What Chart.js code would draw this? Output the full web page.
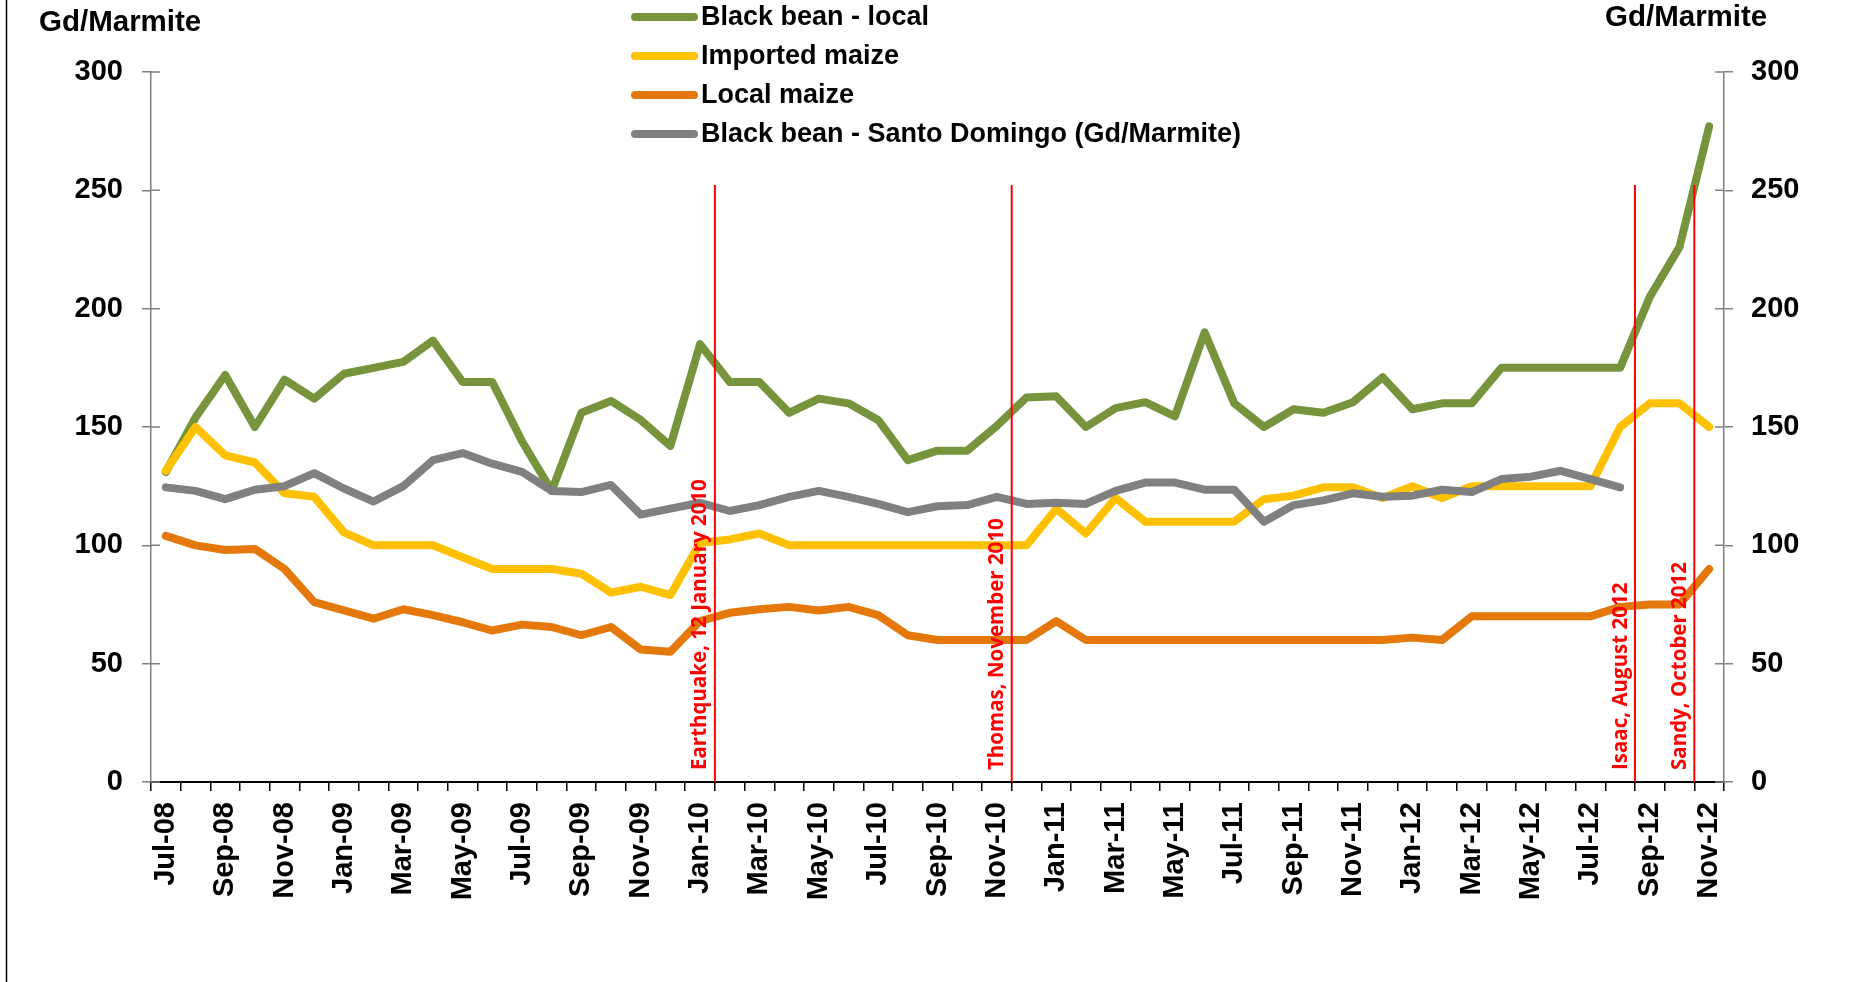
<!DOCTYPE html>
<html>
<head>
<meta charset="utf-8">
<title>Black bean and maize prices</title>
<script src="https://cdn.jsdelivr.net/npm/chart.js@4.4.1/dist/chart.umd.min.js"></script>
<style>
  html, body { margin: 0; padding: 0; background: #fff; }
  #wrap { position: relative; width: 1851px; height: 982px; }
</style>
</head>
<body>
<div id="wrap"><canvas id="priceChart"></canvas></div>
<script>

// Months, Jul-08 to Nov-12 (only every second one is labelled)
const months = [
  'Jul-08', 'Aug-08', 'Sep-08', 'Oct-08', 'Nov-08', 'Dec-08',
  'Jan-09', 'Feb-09', 'Mar-09', 'Apr-09', 'May-09', 'Jun-09', 'Jul-09', 'Aug-09', 'Sep-09', 'Oct-09', 'Nov-09', 'Dec-09',
  'Jan-10', 'Feb-10', 'Mar-10', 'Apr-10', 'May-10', 'Jun-10', 'Jul-10', 'Aug-10', 'Sep-10', 'Oct-10', 'Nov-10', 'Dec-10',
  'Jan-11', 'Feb-11', 'Mar-11', 'Apr-11', 'May-11', 'Jun-11', 'Jul-11', 'Aug-11', 'Sep-11', 'Oct-11', 'Nov-11', 'Dec-11',
  'Jan-12', 'Feb-12', 'Mar-12', 'Apr-12', 'May-12', 'Jun-12', 'Jul-12', 'Aug-12', 'Sep-12', 'Oct-12', 'Nov-12'
];

// Prices, Gd/Marmite
const blackBeanLocal = [
  131, 154, 172, 150, 170, 162,
  172.5, 175, 177.5, 186.5, 169, 169, 144, 123, 156, 161, 153, 142,
  185, 169, 169, 156, 162, 160, 153, 136, 140, 140, 150.5, 162.5,
  163, 150, 158, 160.5, 154.5, 190, 160, 150, 157.5, 156, 160.5, 171,
  157.5, 160, 160, 175, 175, 175, 175, 175, 205, 226, 277
];
const importedMaize = [
  131.5, 150, 138, 135, 122, 120.5,
  105.5, 100, 100, 100, 95, 90, 90, 90, 88, 80, 82.5, 79,
  101, 102.5, 105, 100, 100, 100, 100, 100, 100, 100, 100, 100,
  115.5, 105, 120, 110, 110, 110, 110, 119.5, 121, 124.5, 124.5, 120,
  125, 120, 125, 125, 125, 125, 125, 150, 160, 160, 150
];
const localMaize = [
  104, 100, 98, 98.5, 90, 76,
  72.5, 69, 73, 70.5, 67.5, 64, 66.5, 65.5, 62, 65.5, 56, 55,
  68, 71.5, 73, 74, 72.5, 74, 70.5, 62, 60, 60, 60, 60,
  68, 60, 60, 60, 60, 60, 60, 60, 60, 60, 60, 60,
  61, 60, 70, 70, 70, 70, 70, 74, 75, 75, 90
];
const blackBeanSantoDomingo = [
  124.5, 123, 119.5, 123.5, 125, 130.5,
  124, 118.5, 125, 136, 139, 134.5, 131, 123, 122.5, 125.5, 113, 115.5,
  118, 114.5, 117, 120.5, 123, 120.5, 117.5, 114, 116.5, 117, 120.5, 117.5,
  118, 117.5, 123, 126.5, 126.5, 123.5, 123.5, 110, 117, 119, 122, 120.5,
  121, 123.5, 122.5, 128, 129, 131.5, 128, 124.5, null, null, null
];

// Events marked with a red line (position = month index, drawn at the end of that month)
const eventLabels = ['Earthquake, 12 January 2010', 'Thomas, November 2010', 'Isaac, August 2012', 'Sandy, October 2012'];
const eventPositions = [18.5, 28.5, 49.5, 51.5];
const eventLineTop = 252.3;

// Series: label, data, colour
const series = [
  ['Black bean - local', blackBeanLocal, '#77933C'],
  ['Imported maize', importedMaize, '#FFC000'],
  ['Local maize', localMaize, '#E5780A'],
  ['Black bean - Santo Domingo (Gd/Marmite)', blackBeanSantoDomingo, '#808080'],
];

const yTicks = [0, 50, 100, 150, 200, 250, 300];
const unitTitle = 'Gd/Marmite';

const fontFamily = "'Liberation Sans', Arial, sans-serif";
Chart.defaults.font.family = fontFamily;
Chart.defaults.font.weight = 'bold';
Chart.defaults.font.size = 29;
Chart.defaults.color = '#000';


// Plugin for the parts Excel drew which Chart.js does not: event lines, crossing ticks, titles, legend
const decorations = {
  id: 'decorations',

  beforeDraw(chart) {
    // Left frame line
    const ctx = chart.ctx;
    ctx.save();
    ctx.strokeStyle = '#000';
    ctx.lineWidth = 1.5;
    ctx.beginPath();
    ctx.moveTo(6.5, 0);
    ctx.lineTo(6.5, chart.height);
    ctx.stroke();
    ctx.restore();
  },

  afterDatasetsDraw(chart) {
    const {ctx, scales: {x, y}} = chart;
    const zeroY = y.getPixelForValue(0);

    ctx.save();
    eventLabels.forEach((label, i) => {
      const px = x.getPixelForValue(eventPositions[i]);

      // Line
      ctx.strokeStyle = '#FF0000';
      ctx.lineWidth = 2;
      ctx.beginPath();
      ctx.moveTo(px, y.getPixelForValue(eventLineTop));
      ctx.lineTo(px, zeroY);
      ctx.stroke();

      // Label, reading upwards, just left of the line
      ctx.save();
      ctx.translate(px - 4, zeroY - 12);
      ctx.rotate(-Math.PI / 2);
      ctx.fillStyle = '#FF0000';
      ctx.font = "bold 20.5px 'Open Sans', sans-serif";
      ctx.textAlign = 'left';
      ctx.textBaseline = 'bottom';
      ctx.fillText(label, 0, 0);
      ctx.restore();
    });
    ctx.restore();
  },

  afterDraw(chart) {
    const {ctx, chartArea, scales: {y}} = chart;
    ctx.save();

    // Inner half of the y tick marks (Excel crosses the axis)
    ctx.strokeStyle = '#808080';
    ctx.lineWidth = 1.5;
    yTicks.forEach(v => {
      const py = y.getPixelForValue(v);
      ctx.beginPath();
      ctx.moveTo(chartArea.left, py);
      ctx.lineTo(chartArea.left + 9, py);
      ctx.moveTo(chartArea.right - 9, py);
      ctx.lineTo(chartArea.right, py);
      ctx.stroke();
    });

    // Unit titles above both axes
    ctx.fillStyle = '#000';
    ctx.font = 'bold 29.5px ' + fontFamily;
    ctx.textBaseline = 'middle';
    ctx.textAlign = 'left';
    ctx.fillText(unitTitle, 39, 23);
    ctx.fillText(unitTitle, 1605, 18);

    // Legend
    ctx.font = 'bold 27px ' + fontFamily;
    ctx.lineCap = 'round';
    chart.data.datasets.forEach((dataset, i) => {
      const rowY = 17 + i * 39;
      ctx.strokeStyle = dataset.borderColor;
      ctx.lineWidth = 8;
      ctx.beginPath();
      ctx.moveTo(635, rowY);
      ctx.lineTo(694, rowY);
      ctx.stroke();
      ctx.fillText(dataset.label, 701, rowY + 1);
    });

    ctx.restore();
  }
};


// Assemble the datasets; the last series is drawn on top, as in Excel
const datasets = series.map((s, i) => ({
  label: s[0],
  data: s[1],
  borderColor: s[2],
  backgroundColor: s[2],
  borderWidth: 8,
  borderCapStyle: 'round',
  borderJoinStyle: 'round',
  pointRadius: 0,
  tension: 0,
  spanGaps: false,
  order: series.length - i
}));

new Chart(document.getElementById('priceChart').getContext('2d'), {
  type: 'line',
  data: {
    labels: months,
    datasets: datasets
  },
  options: {
    responsive: true,
    maintainAspectRatio: false,
    animation: false,
    events: [],
    layout: {
      padding: {top: 72, left: 0, right: 0, bottom: 0}
    },
    plugins: {
      legend: {display: false},
      tooltip: {enabled: false}
    },
    scales: {
      x: {
        type: 'category',
        offset: true,
        grid: {
          offset: true,
          drawOnChartArea: false,
          tickLength: 9,
          color: '#000',
          lineWidth: 1.5
        },
        border: {color: '#000', width: 2},
        ticks: {
          autoSkip: false,
          minRotation: 90,
          maxRotation: 90,
          padding: 11,
          callback: (value, index) => index % 2 === 0 ? months[index] : ''
        },
        afterFit: scale => { scale.height = 200; }
      },
      y: {
        position: 'left',
        min: 0,
        max: 300,
        ticks: {stepSize: 50, padding: 19},
        grid: {drawOnChartArea: false, tickLength: 9, color: '#808080', lineWidth: 1.5},
        border: {color: '#808080', width: 1.5},
        afterFit: scale => { scale.width = 151; }
      },
      y2: {
        position: 'right',
        min: 0,
        max: 300,
        ticks: {stepSize: 50, padding: 18},
        grid: {drawOnChartArea: false, tickLength: 9, color: '#808080', lineWidth: 1.5},
        border: {color: '#808080', width: 1.5},
        afterFit: scale => { scale.width = 127; }
      }
    }
  },
  plugins: [decorations]
});

</script>
</body>
</html>
